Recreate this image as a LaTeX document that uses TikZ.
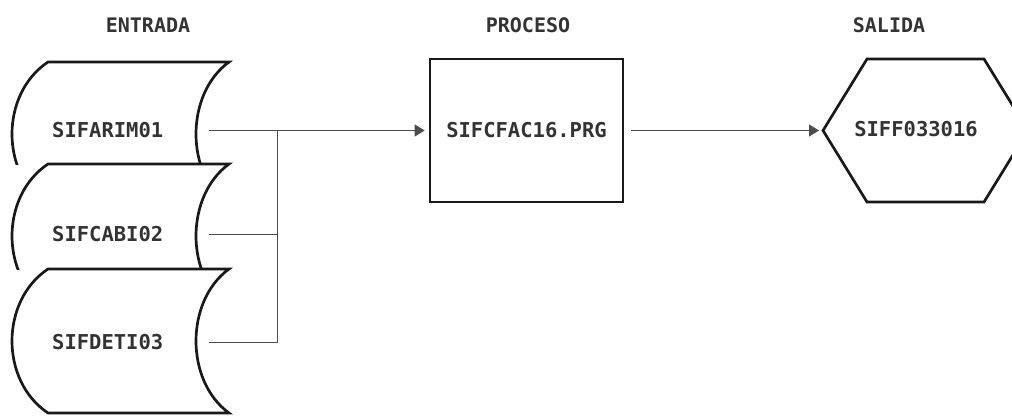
\documentclass[tikz,border=0pt]{standalone}
\usepackage{fontspec}
\setmonofont{DejaVu Sans Mono}
\usetikzlibrary{arrows.meta,positioning}
\tikzset{
  headtext/.style={font=\ttfamily\bfseries\fontsize{20}{20}\selectfont,text=black!80},
  nametext/.style={font=\ttfamily\bfseries\fontsize{20.5}{20}\selectfont,text=black!80},
  filetext/.style={nametext,inner xsep=0pt,text width=157pt,align=left,anchor=west},
  filebox/.style={draw=black!90,line width=2.7pt,fill=white},
  procbox/.style={filebox,nametext,minimum width=193pt,minimum height=143pt},
  flowline/.style={line width=1pt,draw=black!70},
  flowarrow/.style={flowline,-{Triangle[length=10pt,width=12pt]},shorten >=4pt},
}
\newcommand{\storedfile}[2]{%
  \begin{scope}
    \clip (0,#1-6) rectangle (240,#2);
    \draw[filebox] (48,#1) -- (229,#1)
      .. controls (185,#1+32) and (185,#1+112) .. (229,#1+144)
      -- (48,#1+144) .. controls (0,#1+112) and (0,#1+32) .. cycle;
  \end{scope}}

\begin{document}
\begin{tikzpicture}[x=1pt,y=-1pt]
\path[use as bounding box,fill=white] (0,0) rectangle (1012,415);
\node[headtext] (entrada) at (148,25) {ENTRADA};
\node[headtext] (proceso) at (528,25) {PROCESO};
\node[headtext] (salida) at (889,25) {SALIDA};

\storedfile{62}{164}
\storedfile{164}{269}
\storedfile{269}{420}
\node[filetext] (f1) at (52,130.5) {SIFARIM01};
\node[filetext] (f2) at (52,234) {SIFCABI02};
\node[filetext] (f3) at (52,342) {SIFDETI03};

\node[procbox] (proc) at (526.5,130.5) {SIFCFAC16.PRG};

\draw[filebox] (823,130.5) coordinate (hexw) -- (867,59) -- (984,59) -- (1028,130.5) -- (984,202) -- (867,202) -- cycle;
\node[nametext] (out) at (916,129) {SIFF033016};

\coordinate (jn) at (277,130.5);
\draw[flowarrow] (f1.east) -- (proc.west);
\draw[flowline] (f2.east) -- (f2.east -| jn);
\draw[flowline] (f3.east) -| (jn);
\draw[flowarrow,shorten <=7pt] (proc.east) -- (hexw);
\end{tikzpicture}
\end{document}
